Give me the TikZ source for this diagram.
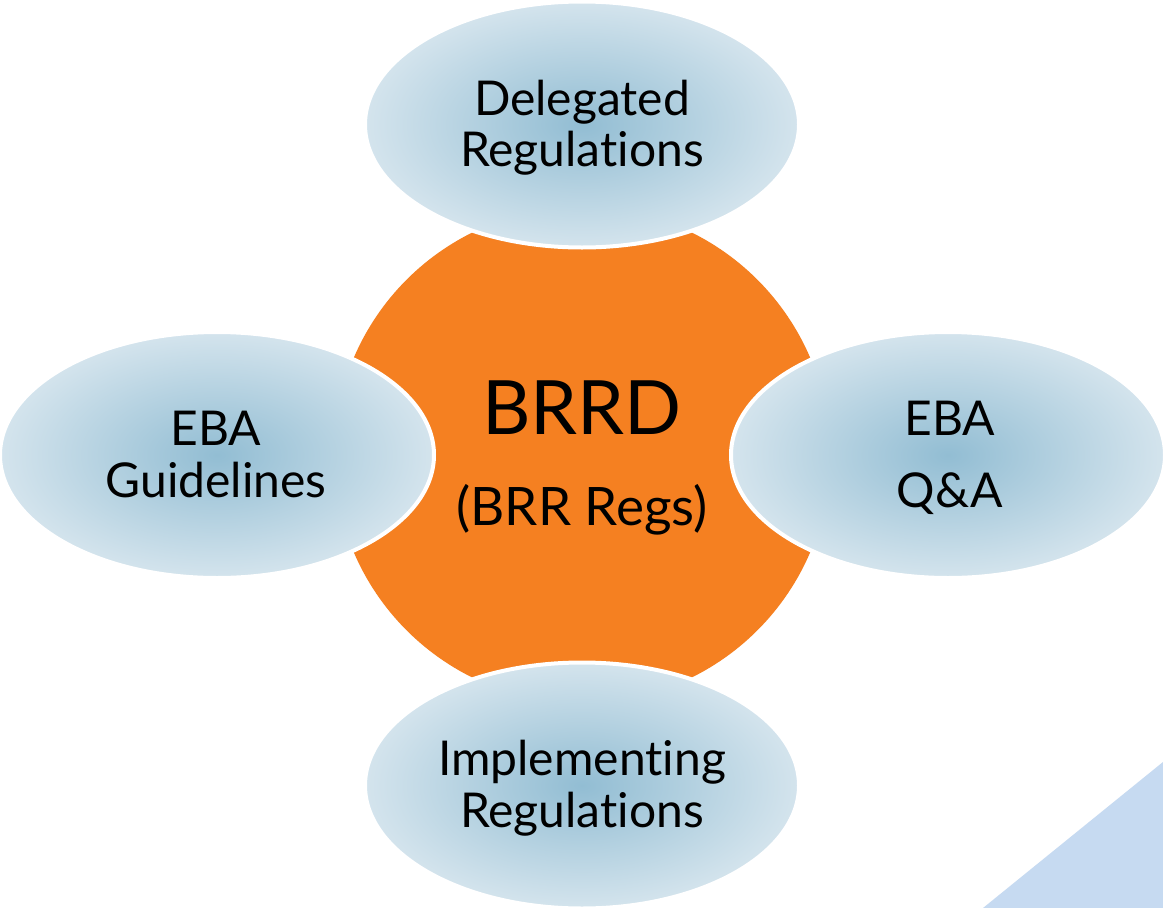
\documentclass[tikz,border=0pt]{standalone}
\usepackage{fontspec}
\setmainfont{Lato}[Ligatures={NoCommon}]
\usetikzlibrary{shapes.geometric}
\definecolor{hubOrange}{HTML}{F58021}
\definecolor{ellIn}{HTML}{92BDD3}
\definecolor{ellOut}{HTML}{D4E4ED}
\definecolor{cornerBlue}{HTML}{C6DAF1}
\tikzset{
  petal/.style={ellipse, draw=white, line width=4pt, inner sep=0pt,
    minimum width=434pt, minimum height=246pt,
    shading=radial, inner color=ellIn, outer color=ellOut},
  hub/.style={circle, fill=hubOrange, inner sep=0pt, minimum size=496pt},
  lbl/.style={anchor=base, inner sep=0pt, font=\fontsize{48}{53}\selectfont, text=black},
  bigl/.style={anchor=base, inner sep=0pt, font=\fontsize{75}{80}\selectfont, text=black},
  midl/.style={anchor=base, inner sep=0pt, font=\fontsize{53}{58}\selectfont, text=black}
}
\begin{document}
\begin{tikzpicture}[x=1pt,y=-1pt]
\useasboundingbox (0,0) rectangle (1163,908);
\fill[white] (0,0) rectangle (1163,908);
\fill[cornerBlue] (983,908) -- (1163,762) -- (1163,908) -- cycle;
\node[hub] (hub) at (582,455) {};
\node[petal] (top) at (582,124.5) {};
\node[petal] (left) at (217,455) {};
\node[petal] (right) at (948,455) {};
\node[petal] (bottom) at (582,785.5) {};
\node[lbl] (topA) at (582,115) {Delegated};
\node[lbl] (topB) at (582,166) {Regulations};
\node[lbl] (leftA) at (216,445) {EBA};
\node[lbl] (leftB) at (216,497) {Guidelines};
\node[lbl] (rightA) at (950,435) {EBA};
\node[lbl] (rightB) at (950,507) {Q\&A};
\node[lbl] (botA) at (582,775) {Implementing};
\node[lbl] (botB) at (582,827) {Regulations};
\node[bigl] (hubA) at (582,434) {BRRD};
\node[midl] (hubB) at (582,525) {(BRR Regs)};
\end{tikzpicture}
\end{document}
